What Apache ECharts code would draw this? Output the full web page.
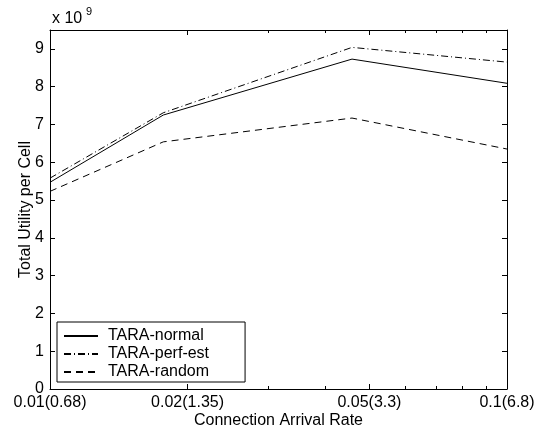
<!DOCTYPE html>
<html>
<head>
<meta charset="utf-8">
<script src="https://cdn.jsdelivr.net/npm/echarts@6/dist/echarts.min.js"></script>
<style>html,body{margin:0;padding:0;background:#fff;}#c{width:543px;height:434px;}</style>
</head>
<body>
<div id="c"></div>
<script>
// Data
var xValues = [0.01, 0.0177, 0.0458, 0.1];
var normalValues = [5.47, 7.25, 8.73, 8.09];
var perfEstValues = [5.58, 7.31, 9.04, 8.65];
var randomValues = [5.23, 6.54, 7.17, 6.35];
var seriesNames = ['TARA-normal', 'TARA-perf-est', 'TARA-random'];
var majorTicks = [0.01, 0.02, 0.05, 0.1];
var majorTickLabels = ['0.01(0.68)', '0.02(1.35)', '0.05(3.3)', '0.1(6.8)'];
var minorTicks = [0.03, 0.04, 0.06, 0.07, 0.08, 0.09];
var yTicks = [0, 1, 2, 3, 4, 5, 6, 7, 8, 9];

function pairs(ys) { return xValues.map(function (x, i) { return [x, ys[i]]; }); }
function xLabel(v) {
  for (var i = 0; i < majorTicks.length; i++) {
    if (Math.abs(v - majorTicks[i]) < 1e-6) return majorTickLabels[i];
  }
  return '';
}
var FONT = 'Liberation Sans, Arial, Helvetica, sans-serif';
var black = '#000';

function xAx(pos, ticks, len, showLine, showLabel) {
  return {
    type: 'log', logBase: 10, min: 0.01, max: 0.1, position: pos,
    gridIndex: 0,
    axisLine: { show: showLine, onZero: false, lineStyle: { color: black, width: 1 } },
    axisTick: { show: true, inside: true, length: len, customValues: ticks, lineStyle: { color: black, width: 1 } },
    axisLabel: showLabel ? { show: true, customValues: majorTicks, formatter: xLabel, color: black, fontSize: 16, fontFamily: FONT, margin: 6 } : { show: false },
    splitLine: { show: false }, minorTick: { show: false }, minorSplitLine: { show: false },
    name: showLabel ? 'Connection Arrival Rate' : '',
    nameLocation: 'middle', nameGap: 24, nameMoveOverlap: false,
    nameTextStyle: { color: black, fontSize: 16, fontFamily: FONT }
  };
}
function yAx(pos, showLabel) {
  return {
    type: 'value', min: 0, max: 9.5, position: pos,
    axisLine: { show: true, onZero: false, lineStyle: { color: black, width: 1 } },
    axisTick: { show: true, inside: true, length: 5, customValues: yTicks, lineStyle: { color: black, width: 1 } },
    axisLabel: showLabel ? { show: true, customValues: yTicks, color: black, fontSize: 16, fontFamily: FONT, margin: 6 } : { show: false },
    splitLine: { show: false },
    name: showLabel ? 'Total Utility per Cell' : '',
    nameLocation: 'middle', nameGap: 16, nameRotate: 90, nameMoveOverlap: false,
    nameTextStyle: { color: black, fontSize: 16, fontFamily: FONT }
  };
}

var chart = echarts.init(document.getElementById('c'), null, { renderer: 'canvas' });
chart.setOption({
  animation: false,
  backgroundColor: '#fff',
  title: [
    { text: 'x 10', left: 47, top: 6, textStyle: { color: black, fontSize: 16, fontWeight: 'normal', fontFamily: FONT } },
    { text: '9', left: 81, top: 1, textStyle: { color: black, fontSize: 11, fontWeight: 'normal', fontFamily: FONT } }
  ],
  grid: { left: 50, right: 36, top: 30, bottom: 44, containLabel: false },
  xAxis: [
    xAx('bottom', majorTicks, 5, true, true),
    xAx('bottom', minorTicks, 3, false, false),
    xAx('top', majorTicks, 5, true, false),
    xAx('top', minorTicks, 3, false, false)
  ],
  yAxis: [yAx('left', true), yAx('right', false)],
  legend: {
    orient: 'vertical', left: 57, top: 322,
    itemWidth: 34, itemHeight: 12, itemGap: 2,
    padding: [6, 36, 2, 6],
    backgroundColor: '#fff', borderColor: black, borderWidth: 1, borderRadius: 0,
    itemStyle: { opacity: 0 },
    textStyle: { color: black, fontSize: 16, fontFamily: FONT, padding: [0, 0, 0, 5] },
    data: seriesNames
  },
  series: [
    { name: seriesNames[0], type: 'line', data: pairs(normalValues), symbol: 'none', showSymbol: false, xAxisIndex: 0, yAxisIndex: 0,
      lineStyle: { color: black, width: 1, type: 'solid' }, itemStyle: { color: black } },
    { name: seriesNames[1], type: 'line', data: pairs(perfEstValues), symbol: 'none', showSymbol: false, xAxisIndex: 0, yAxisIndex: 0,
      lineStyle: { color: black, width: 1, type: [7, 3, 1, 3] }, itemStyle: { color: black } },
    { name: seriesNames[2], type: 'line', data: pairs(randomValues), symbol: 'none', showSymbol: false, xAxisIndex: 0, yAxisIndex: 0,
      lineStyle: { color: black, width: 1, type: [7, 5] }, itemStyle: { color: black } }
  ]
});
</script>
</body>
</html>
